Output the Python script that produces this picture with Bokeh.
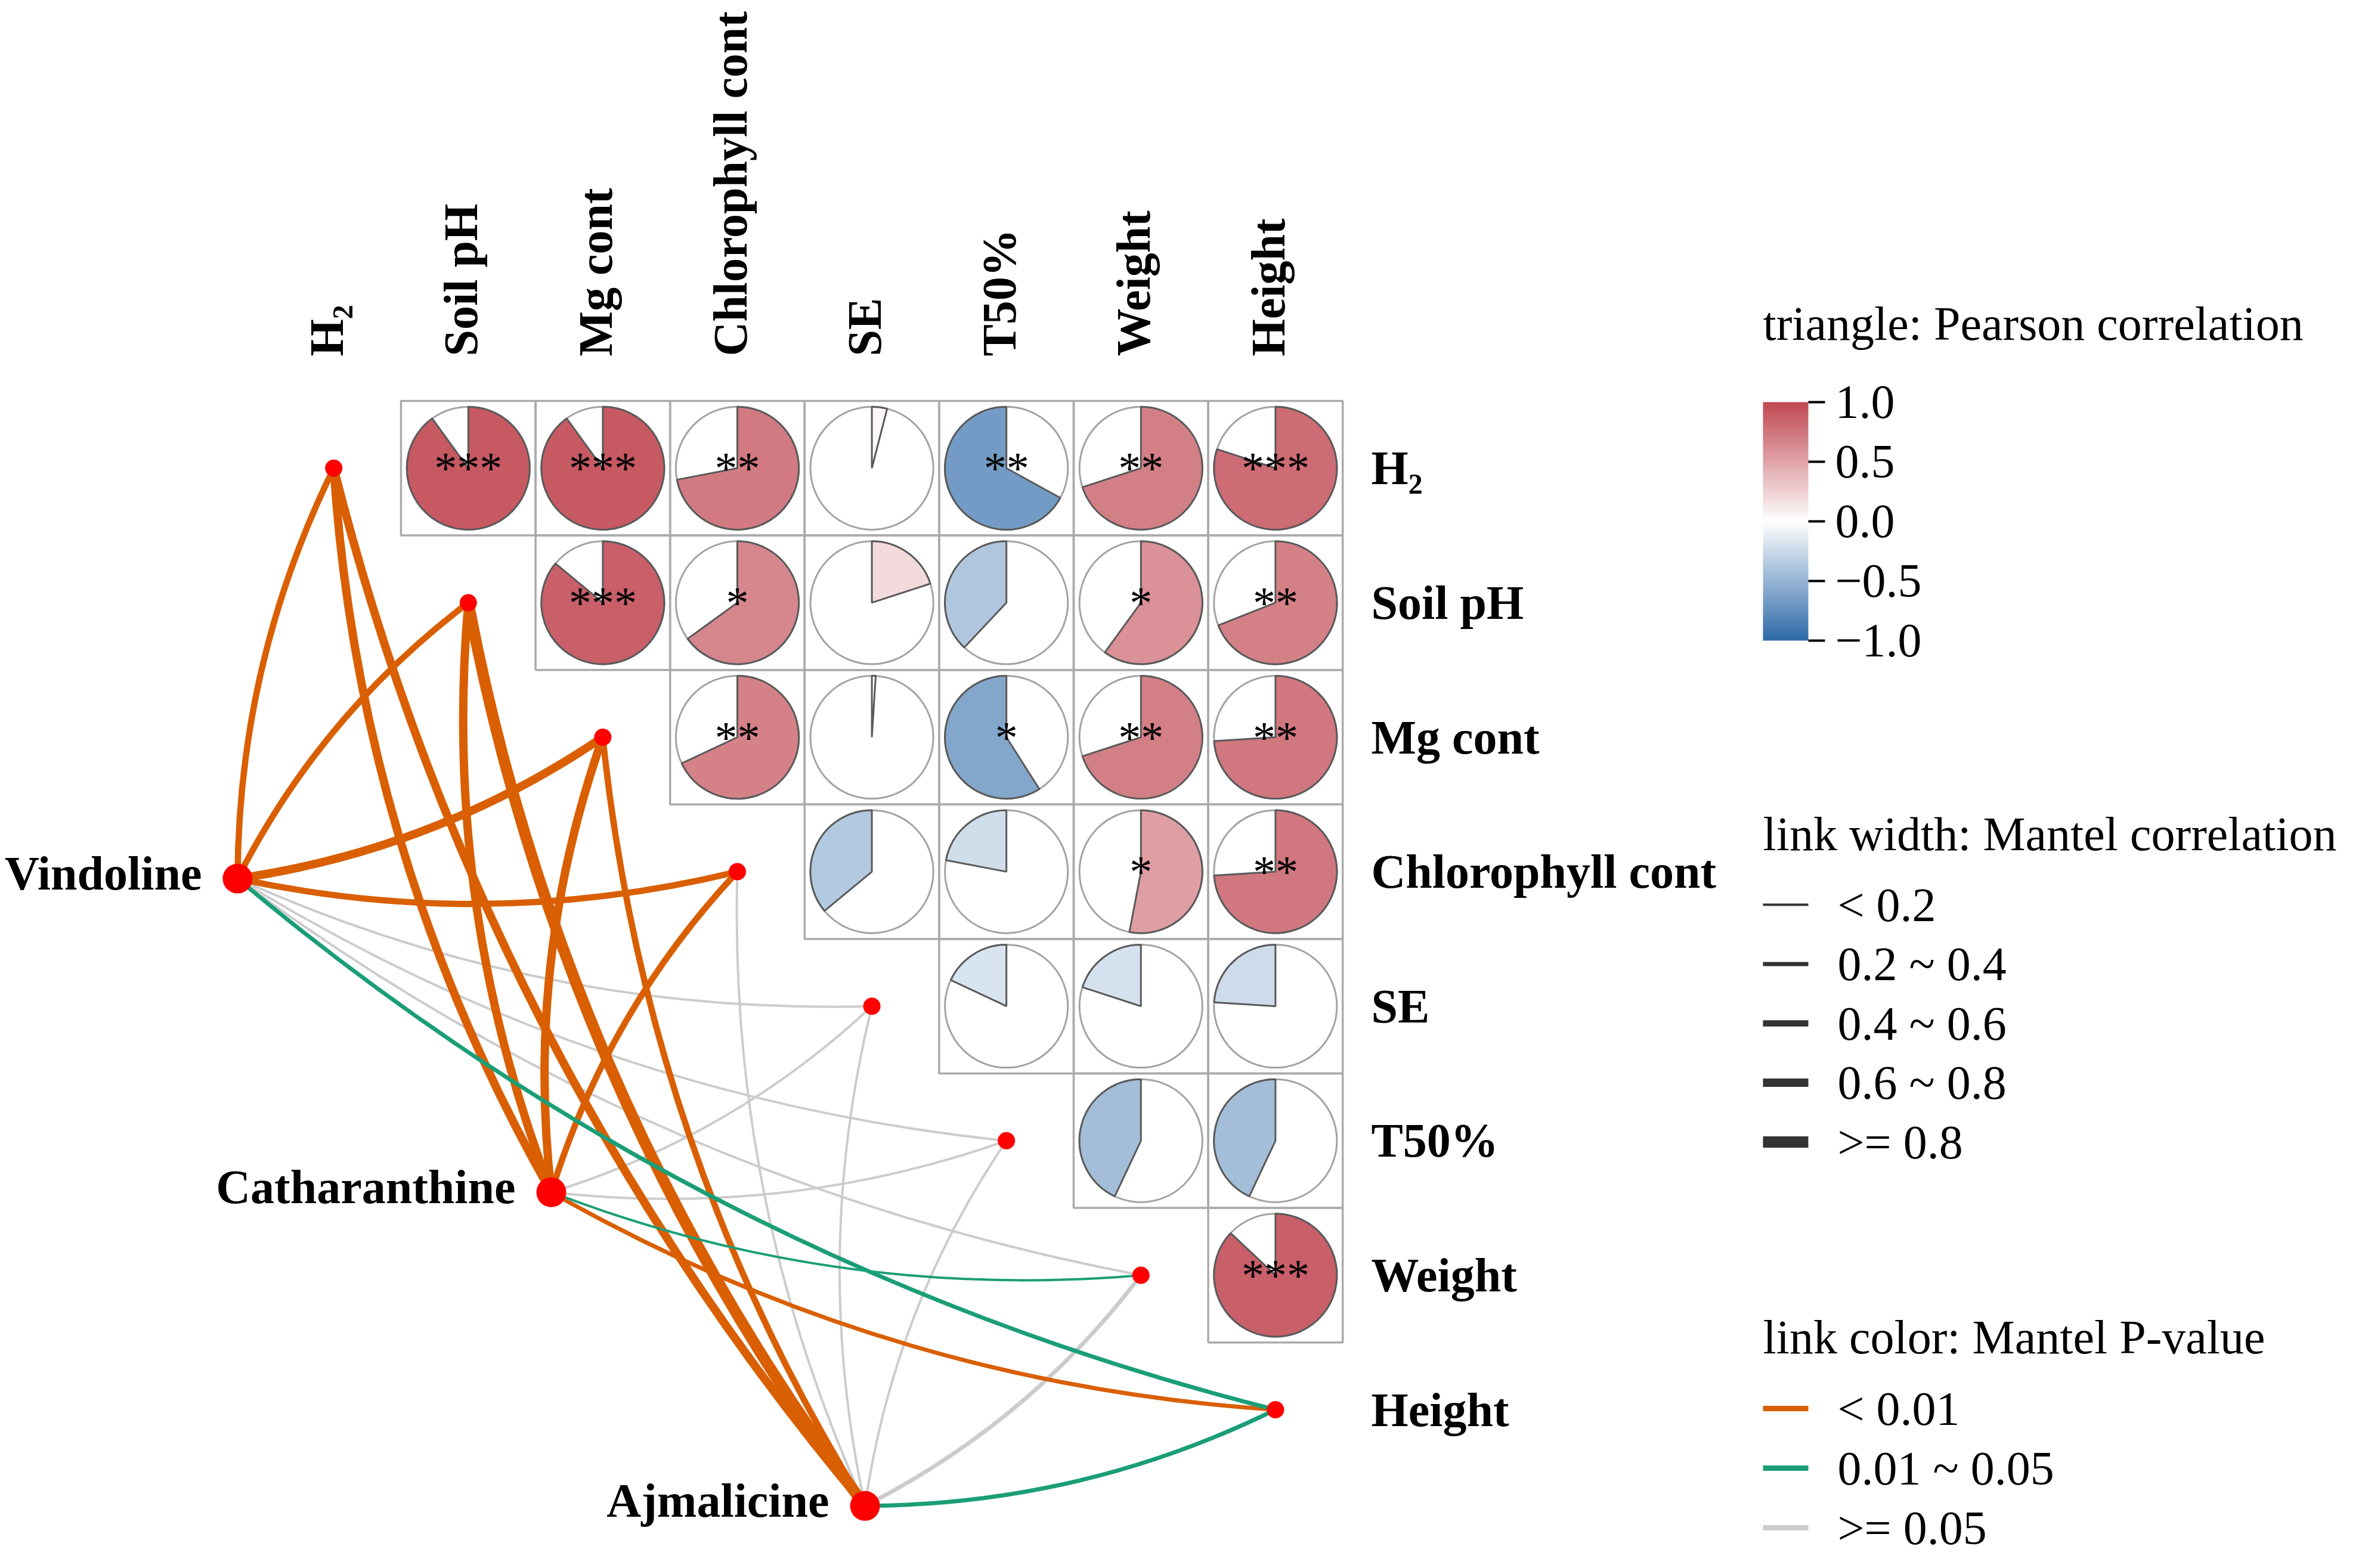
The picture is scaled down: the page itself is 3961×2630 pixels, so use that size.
import numpy as np
from bokeh.plotting import figure
from bokeh.models import Range1d, LinearColorMapper, ColumnDataSource
from bokeh.transform import transform
from bokeh.core.properties import value
from bokeh.embed import file_html
from bokeh.resources import INLINE

# ---------------- data ----------------
spec_labels = ["H₂", "Soil pH", "Mg cont", "Chlorophyll cont", "SE", "T50%", "Weight", "Height"]

# upper triangle of Pearson correlations (row i, columns i+1 .. 7)
corr_h2 = [0.90, 0.90, 0.72, 0.04, -0.67, 0.70, 0.80]
corr_soil = [0.86, 0.65, 0.20, -0.38, 0.60, 0.69]
corr_mg = [0.68, 0.01, -0.59, 0.70, 0.74]
corr_chl = [-0.36, -0.22, 0.53, 0.74]
corr_se = [-0.18, -0.20, -0.24]
corr_t50 = [-0.43, -0.43]
corr_weight = [0.87]
corr_rows = [corr_h2, corr_soil, corr_mg, corr_chl, corr_se, corr_t50, corr_weight]

sig_h2 = ["***", "***", "**", "", "**", "**", "***"]
sig_soil = ["***", "*", "", "", "*", "**"]
sig_mg = ["**", "", "*", "**", "**"]
sig_chl = ["", "", "*", "**"]
sig_se = ["", "", ""]
sig_t50 = ["", ""]
sig_weight = ["***"]
sig_rows = [sig_h2, sig_soil, sig_mg, sig_chl, sig_se, sig_t50, sig_weight]

env_labels = ["Vindoline", "Catharanthine", "Ajmalicine"]
# Mantel r / p of each env against the 8 variables (order of spec_labels)
mantel_r_vindoline = [0.50, 0.50, 0.70, 0.50, 0.10, 0.10, 0.10, 0.30]
mantel_r_catharanthine = [0.70, 0.70, 0.70, 0.50, 0.10, 0.10, 0.15, 0.30]
mantel_r_ajmalicine = [0.60, 0.85, 0.55, 0.10, 0.10, 0.10, 0.30, 0.30]
mantel_p_vindoline = [0.001, 0.001, 0.001, 0.001, 0.20, 0.20, 0.20, 0.03]
mantel_p_catharanthine = [0.001, 0.001, 0.001, 0.001, 0.20, 0.20, 0.03, 0.005]
mantel_p_ajmalicine = [0.001, 0.001, 0.001, 0.20, 0.20, 0.20, 0.20, 0.03]
mantel_r = [mantel_r_vindoline, mantel_r_catharanthine, mantel_r_ajmalicine]
mantel_p = [mantel_p_vindoline, mantel_p_catharanthine, mantel_p_ajmalicine]

cbar_ticks = [1.0, 0.5, 0.0, -0.5, -1.0]
cbar_tick_labels = ["1.0", "0.5", "0.0", "\u22120.5", "\u22121.0"]
width_breaks = [0.2, 0.4, 0.6, 0.8]
width_labels = ["< 0.2", "0.2 ~ 0.4", "0.4 ~ 0.6", "0.6 ~ 0.8", ">= 0.8"]
p_breaks = [0.01, 0.05]
p_labels = ["< 0.01", "0.01 ~ 0.05", ">= 0.05"]

# ---------------- style / layout ----------------
W, H = 3944, 2612
CELL = 225.6
PX0, PY0 = 567.2, 792.8
def X(px): return (px - PX0) / CELL
def Y(py): return -(py - PY0) / CELL

FONT = value("Liberation Serif")
width_px = [4, 7, 10.5, 14, 19]
p_colors = ["#D95F02", "#1B9E77", "#CCCCCC"]
RADIUS = 0.457

def interp(c1, c2, t):
    return tuple(int(round(a + (b - a) * t)) for a, b in zip(c1, c2))
blue, white, red = (46, 106, 168), (255, 255, 255), (193, 72, 82)
pal = []
for t in np.linspace(-1, 1, 256):
    c = interp(white, blue, -t) if t < 0 else interp(white, red, t)
    pal.append("#%02x%02x%02x" % c)
mapper = LinearColorMapper(palette=pal, low=-1, high=1)

p = figure(width=W, height=H, x_range=Range1d(X(8), X(8 + W)), y_range=Range1d(Y(8 + H), Y(8)),
           output_backend="svg", toolbar_location=None, x_axis_type=None, y_axis_type=None,
           min_border=0, background_fill_color="white")
p.grid.visible = False
p.outline_line_color = None

# ---------------- correlation triangle ----------------
cx, cy, rr, st = [], [], [], []
for i, (row, srow) in enumerate(zip(corr_rows, sig_rows)):
    for k, (r, s) in enumerate(zip(row, srow)):
        cx.append(i + 1 + k); cy.append(-i); rr.append(r); st.append(s)
rr = np.array(rr)
start = np.where(rr >= 0, np.pi / 2 - rr * 2 * np.pi, np.pi / 2)
end = np.where(rr >= 0, np.pi / 2, np.pi / 2 - rr * 2 * np.pi)
csrc = ColumnDataSource(dict(x=cx, y=cy, r=rr, s=st, start=start, end=end))

p.rect(x="x", y="y", width=1, height=1, fill_color=None, line_color="#ABABAB", line_width=3.5, source=csrc)
p.circle(x="x", y="y", radius=RADIUS, fill_color="white", line_color="#A3A3A3", line_width=3, source=csrc)
p.wedge(x="x", y="y", radius=RADIUS, start_angle="start", end_angle="end", direction="anticlock",
        fill_color=transform("r", mapper), line_color="#5A5A5A", line_width=3, source=csrc)
p.text(x="x", y="y", text="s", text_font=FONT, text_font_size="76px", text_align="center",
       text_baseline="middle", text_color="black", source=csrc)

n = len(spec_labels)
p.text(x=list(range(n)), y=[Y(605)] * n, text=spec_labels, angle=np.pi / 2, x_offset=-12,
       text_font=FONT, text_font_style="bold", text_font_size="80px", text_align="left",
       text_baseline="middle", text_color="black")
p.text(x=[X(2307)] * n, y=[-i for i in range(n)], text=spec_labels,
       text_font=FONT, text_font_style="bold", text_font_size="80px", text_align="left",
       text_baseline="middle", text_color="black")

# ---------------- Mantel links ----------------
env_row = [3.051 + k * 2.332 for k in range(len(env_labels))]
env_col = [r - 3.766 for r in env_row]
env_x = env_col
env_y = [-r for r in env_row]

lx0, ly0, lx1, ly1, lcx, lcy, lcol, lw, order = [], [], [], [], [], [], [], [], []
for e in range(len(env_labels)):
    for j in range(n):
        x0, y0 = env_x[e], env_y[e]
        x1, y1 = j, -j
        dx, dy = x1 - x0, y1 - y0
        L = np.hypot(dx, dy)
        s = 1.0 if abs(dy) > abs(dx) else -1.0
        nx, ny = -dy / L, dx / L
        k = 0.115 * L * s
        lx0.append(x0); ly0.append(y0); lx1.append(x1); ly1.append(y1)
        lcx.append((x0 + x1) / 2 + nx * k); lcy.append((y0 + y1) / 2 + ny * k)
        pv = mantel_p[e][j]
        ci = int(np.searchsorted(p_breaks, pv, side="right"))
        lcol.append(p_colors[ci])
        wi = int(np.searchsorted(width_breaks, mantel_r[e][j], side="right"))
        lw.append(width_px[wi])
        order.append({2: 0, 0: 1, 1: 2}[ci])
idx = np.argsort(order, kind="stable")
take = lambda a: [a[i] for i in idx]
lsrc = ColumnDataSource(dict(x0=take(lx0), y0=take(ly0), x1=take(lx1), y1=take(ly1),
                             cx=take(lcx), cy=take(lcy), c=take(lcol), w=take(lw)))
p.quadratic(x0="x0", y0="y0", x1="x1", y1="y1", cx="cx", cy="cy", line_color="c",
            line_width="w", source=lsrc)

p.scatter(x=list(range(n)), y=[-i for i in range(n)], size=29, marker="circle",
          fill_color="#FF0000", line_color=None)
p.scatter(x=env_x, y=env_y, size=50, marker="circle", fill_color="#FF0000", line_color=None)
p.text(x=[v - 60 / CELL for v in env_x], y=env_y, text=env_labels, y_offset=-9,
       text_font=FONT, text_font_style="bold", text_font_size="80px", text_align="right",
       text_baseline="middle", text_color="black")

# ---------------- legends ----------------
LEG_X0, LEG_X1 = 2964, 3040
def title(txt, py):
    p.text(x=[X(LEG_X0)], y=[Y(py)], text=[txt], text_font=FONT, text_font_size="80px",
           text_align="left", text_baseline="middle", text_color="black")

title("triangle: Pearson correlation", 550)
CB_TOP, CB_BOT = 682, 1082
grad = np.linspace(-1, 1, 256).reshape(256, 1)
p.image(image=[grad], x=X(LEG_X0), y=Y(CB_BOT), dw=(LEG_X1 - LEG_X0) / CELL,
        dh=(CB_BOT - CB_TOP) / CELL, color_mapper=mapper)
tick_y = [Y(CB_BOT - (t + 1) / 2 * (CB_BOT - CB_TOP)) for t in cbar_ticks]
p.segment(x0=[X(LEG_X1)] * 5, x1=[X(3068)] * 5, y0=tick_y, y1=tick_y, line_color="black", line_width=4)
p.text(x=[X(3085)] * 5, y=tick_y, text=cbar_tick_labels, text_font=FONT, text_font_size="80px",
       text_align="left", text_baseline="middle", text_color="black")

title("link width: Mantel correlation", 1406)
wy = [Y(1525 + 99.5 * k) for k in range(len(width_labels))]
p.segment(x0=[X(LEG_X0)] * 5, x1=[X(LEG_X1)] * 5, y0=wy, y1=wy, line_color="#333333", line_width=width_px)
p.text(x=[X(3089)] * 5, y=wy, text=width_labels, text_font=FONT, text_font_size="80px",
       text_align="left", text_baseline="middle", text_color="black")

title("link color: Mantel P-value", 2250)
cyl = [Y(2370 + 100 * k) for k in range(len(p_labels))]
p.segment(x0=[X(LEG_X0)] * 3, x1=[X(LEG_X1)] * 3, y0=cyl, y1=cyl, line_color=p_colors, line_width=9)
p.text(x=[X(3089)] * 3, y=cyl, text=p_labels, text_font=FONT, text_font_size="80px",
       text_align="left", text_baseline="middle", text_color="black")

open("out.html", "w").write(file_html(p, INLINE))
